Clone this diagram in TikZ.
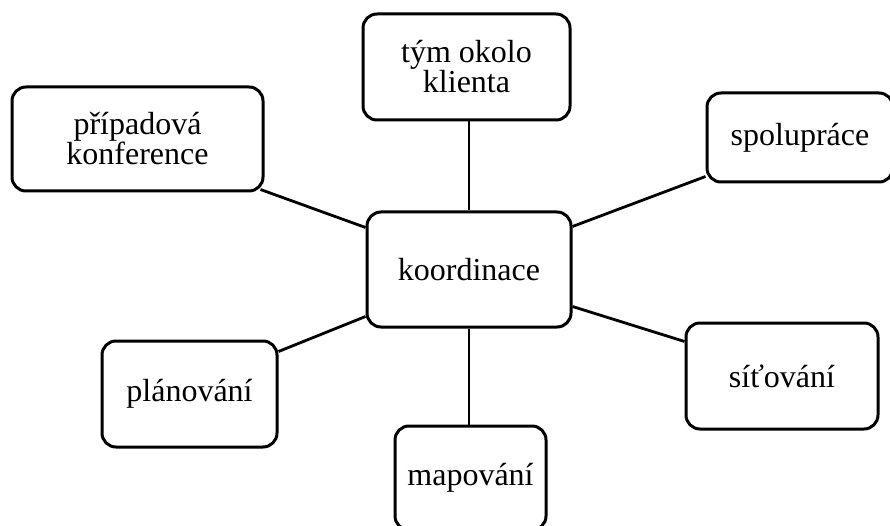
\documentclass[tikz,border=0pt]{standalone}
\usepackage{fontspec}
\setmainfont{Liberation Serif}
\begin{document}
\begin{tikzpicture}[x=1pt,y=-1pt,
  topic/.style={draw=black, line width=3pt, fill=white, rounded corners=14pt,
    inner sep=0pt, align=center, font=\fontsize{32}{30}\selectfont},
  link/.style={draw=black, line width=2.8pt}]
\clip (0,0) rectangle (890,526);
\fill[white] (0,0) rectangle (890,526);

% central topic and the surrounding activities
\node[topic, minimum width=204pt, minimum height=115pt] (koord) at (469,269.5) {koordinace};
\node[topic, minimum width=207pt, minimum height=106pt] (tym)   at (466.5,67)  {tým okolo\\klienta};
\node[topic, minimum width=251pt, minimum height=104pt] (kp)    at (137.5,139) {případová\\konference};
\node[topic, minimum width=186pt, minimum height=89pt]  (spol)  at (800,137.5)  {spolupráce};
\node[topic, minimum width=192pt, minimum height=106pt] (sit)   at (782,376)   {síťování};
\node[topic, minimum width=175pt, minimum height=106pt] (plan)  at (189.5,394) {plánování};
\node[topic, minimum width=151pt, minimum height=104pt] (map)   at (470.5,478) {mapování};

% spokes from the centre
\draw[link] (tym.south -| koord.north) -- (koord.north);
\draw[link] ([xshift=-4pt,yshift=3pt]kp.south east) -- ([yshift=-17pt]koord.north west);
\draw[link] ([yshift=7pt]spol.south west) -- ([yshift=-16pt]koord.north east);
\draw[link] ([yshift=-20pt]sit.north west) -- ([yshift=22pt]koord.south east);
\draw[link] ([yshift=-12pt]plan.north east) -- ([yshift=12pt]koord.south west);
\draw[link] (koord.south) -- (koord.south |- map.north);
\end{tikzpicture}
\end{document}
